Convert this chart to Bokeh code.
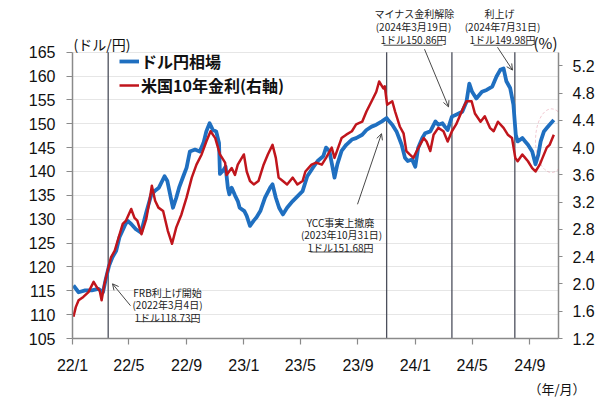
import math
import pandas as pd
from bokeh.plotting import figure
from bokeh.models import (Range1d, LinearAxis, FixedTicker, Label, Arrow, OpenHead, Title,
                          Legend, LegendItem, PolyAnnotation, NumeralTickFormatter)
from bokeh.embed import file_html
from bokeh.resources import INLINE

# ---------------- data ----------------
usd_dates = ["2022-01-03","2022-01-14","2022-01-28","2022-02-11","2022-02-25","2022-03-07","2022-03-13","2022-03-20",
             "2022-03-27","2022-04-04","2022-04-11","2022-04-22","2022-04-28","2022-05-06","2022-05-16","2022-05-27",
             "2022-06-07","2022-06-18","2022-06-25","2022-07-04","2022-07-16","2022-07-22","2022-07-30","2022-08-03",
             "2022-08-10","2022-08-16","2022-08-25","2022-09-01","2022-09-08","2022-09-19","2022-09-29","2022-10-07",
             "2022-10-13","2022-10-20","2022-10-27","2022-11-03","2022-11-09","2022-11-11","2022-11-18","2022-11-23",
             "2022-11-28","2022-12-01","2022-12-06","2022-12-13","2022-12-19","2022-12-23","2023-01-02","2023-01-07",
             "2023-01-14","2023-01-22","2023-01-28","2023-02-05","2023-02-15","2023-02-26","2023-03-03","2023-03-10",
             "2023-03-17","2023-03-25","2023-04-03","2023-04-15","2023-04-25","2023-05-06","2023-05-16","2023-05-28",
             "2023-06-07","2023-06-19","2023-06-25","2023-07-02","2023-07-09","2023-07-13","2023-07-19","2023-07-28",
             "2023-08-07","2023-08-19","2023-08-28","2023-09-10","2023-09-19","2023-09-30","2023-10-10","2023-10-22",
             "2023-11-01","2023-11-04","2023-11-13","2023-11-22","2023-12-03","2023-12-10","2023-12-16","2023-12-25",
             "2024-01-01","2024-01-07","2024-01-16","2024-01-22","2024-02-02","2024-02-13","2024-02-19","2024-02-28",
             "2024-03-04","2024-03-10","2024-03-19","2024-03-28","2024-04-10","2024-04-19","2024-04-25","2024-05-01",
             "2024-05-10","2024-05-22","2024-06-01","2024-06-13","2024-06-22","2024-06-30","2024-07-07","2024-07-13",
             "2024-07-21","2024-07-28","2024-08-02","2024-08-06","2024-08-16","2024-08-22","2024-08-28","2024-09-06",
             "2024-09-13","2024-09-19","2024-09-24","2024-10-01","2024-10-07","2024-10-13","2024-10-22"]
usd_rate = [116.1,114.7,115.1,115.1,115.4,114.7,117.5,120.3,
            122.0,123.4,126.2,128.6,129.7,129.0,127.9,127.2,
            131.4,135.2,135.9,136.6,139.0,138.0,134.2,132.4,
            134.5,136.6,139.0,140.8,144.2,144.6,144.2,146.0,
            148.4,150.1,148.7,148.4,146.0,139.5,140.2,141.0,
            136.5,135.2,136.6,135.0,133.8,132.4,131.7,130.7,
            128.6,129.7,130.4,131.7,134.5,136.6,137.3,134.5,
            132.4,131.0,132.4,133.8,134.8,135.9,139.0,140.8,
            142.2,143.2,145.0,144.3,140.8,138.7,141.5,144.3,
            145.6,146.7,147.0,147.7,148.7,149.4,149.8,150.5,
            151.2,150.8,149.8,148.4,145.6,142.9,142.2,142.5,
            141.0,144.9,147.0,148.0,148.4,150.5,149.8,150.1,
            149.4,148.7,151.5,151.9,152.5,154.6,158.4,156.7,
            155.3,156.7,157.1,157.8,159.9,161.3,161.6,158.9,
            157.5,154.0,147.7,146.3,147.0,146.3,145.6,144.2,
            141.5,143.5,146.3,148.4,149.1,149.8,150.8]

ust_dates = ["2022-01-03","2022-01-08","2022-01-14","2022-01-24","2022-02-04","2022-02-15","2022-02-22","2022-02-28",
             "2022-03-04","2022-03-10","2022-03-17","2022-03-24","2022-04-01","2022-04-07","2022-04-18","2022-04-25",
             "2022-05-06","2022-05-13","2022-05-19","2022-05-28","2022-06-07","2022-06-14","2022-06-19","2022-06-26",
             "2022-07-03","2022-07-13","2022-07-23","2022-08-01","2022-08-10","2022-08-21","2022-09-01","2022-09-12",
             "2022-09-22","2022-10-03","2022-10-13","2022-10-22","2022-11-01","2022-11-11","2022-11-22","2022-11-25",
             "2022-12-06","2022-12-13","2022-12-19","2023-01-01","2023-01-07","2023-01-14","2023-01-22","2023-02-01",
             "2023-02-12","2023-02-21","2023-03-03","2023-03-10","2023-03-16","2023-03-25","2023-04-03","2023-04-15",
             "2023-04-25","2023-05-06","2023-05-12","2023-05-25","2023-06-04","2023-06-16","2023-06-25","2023-07-07",
             "2023-07-13","2023-07-28","2023-08-07","2023-08-19","2023-08-28","2023-09-10","2023-09-19","2023-09-30",
             "2023-10-10","2023-10-16","2023-10-25","2023-10-28","2023-11-02","2023-11-13","2023-11-19","2023-11-29",
             "2023-12-07","2023-12-13","2023-12-20","2023-12-28","2024-01-04","2024-01-11","2024-01-19","2024-01-25",
             "2024-02-02","2024-02-09","2024-02-19","2024-03-01","2024-03-10","2024-03-19","2024-03-28","2024-04-10",
             "2024-04-19","2024-04-30","2024-05-07","2024-05-19","2024-05-28","2024-06-08","2024-06-16","2024-06-25",
             "2024-07-07","2024-07-16","2024-07-25","2024-08-01","2024-08-06","2024-08-16","2024-08-22","2024-08-28",
             "2024-09-06","2024-09-13","2024-09-22","2024-09-28","2024-10-07","2024-10-13","2024-10-22"]
ust_yield = [1.52,1.66,1.76,1.81,1.88,2.03,1.95,1.90,
             1.76,2.00,2.20,2.39,2.49,2.63,2.88,2.93,
             3.10,2.97,2.93,2.73,2.95,3.22,3.44,3.22,
             3.12,3.07,2.78,2.59,2.83,3.02,3.27,3.56,
             3.75,3.90,4.09,4.24,4.14,3.90,3.78,3.60,
             3.70,3.60,3.75,3.90,3.65,3.51,3.46,3.51,
             3.75,3.90,4.04,3.85,3.56,3.51,3.46,3.56,
             3.46,3.51,3.65,3.75,3.78,3.75,3.85,4.00,
             3.85,4.14,4.19,4.24,4.34,4.38,4.53,4.68,
             4.82,4.97,4.87,4.90,4.63,4.68,4.53,4.31,
             4.21,3.95,3.90,3.85,3.95,4.04,4.14,4.09,
             3.95,4.19,4.29,4.24,4.09,4.24,4.34,4.55,
             4.68,4.68,4.50,4.38,4.46,4.29,4.24,4.38,
             4.29,4.19,4.14,3.85,3.80,3.90,3.85,3.80,
             3.70,3.65,3.75,3.85,4.00,4.04,4.19]

left_ticks = [105, 110, 115, 120, 125, 130, 135, 140, 145, 150, 155, 160, 165]
right_ticks = [1.2, 1.6, 2.0, 2.4, 2.8, 3.2, 3.6, 4.0, 4.4, 4.8, 5.2]
x_tick_dates = ["2022-01-01","2022-05-01","2022-09-01","2023-01-01","2023-05-01","2023-09-01",
                "2024-01-01","2024-05-01","2024-09-01"]
x_tick_labels = ["22/1","22/5","22/9","23/1","23/5","23/9","24/1","24/5","24/9"]

event_dates = ["2022-03-18", "2023-11-01", "2024-03-19", "2024-07-31"]

legend_labels = ["ドル円相場", "米国10年金利(右軸)"]

# ---------------- geometry ----------------
def ms(s):
    return pd.Timestamp(s).value // 10**6

X0, X1 = ms("2022-01-01"), ms("2024-11-01")   # x axis span
L0, L1 = 105, 165                              # left axis span
R0, R1 = 1.2, 5.4                              # right axis span

W, H = 600, 397
AL, AR, AT, AB = 72, 558, 52, 340      # axis box in page px
FT = 0                                 # frame extends to the top so the notes above the axes stay visible

def dx(px):
    return X0 + (px - AL) / (AR - AL) * (X1 - X0)
def dy(py):
    return L1 - (py - AT) / (AB - AT) * (L1 - L0)
def dyr(py):
    return R1 - (py - AT) / (AB - AT) * (R1 - R0)

JP = "Noto Sans CJK JP"
NUM = "Liberation Sans"

p = figure(width=W, height=H, x_axis_type="datetime", output_backend="svg",
           toolbar_location=None,
           x_range=Range1d(X0, X1), y_range=Range1d(L0, dy(FT)),
           min_border_left=AL, min_border_right=W - AR, min_border_top=FT, min_border_bottom=H - AB)
p.extra_y_ranges = {"right": Range1d(R0, dyr(FT))}
p.outline_line_color = None
p.background_fill_color = "white"
p.border_fill_color = "white"

# grid
p.xgrid.visible = False
p.ygrid.ticker = FixedTicker(ticks=left_ticks)
p.ygrid.grid_line_color = "#e6e6e6"
p.ygrid.grid_line_width = 1

# event lines
ev = [pd.Timestamp(d) for d in event_dates]
p.segment(x0=ev, y0=[L0] * len(ev), x1=ev, y1=[L1] * len(ev), line_color="#4c4f5c", line_width=1.3)

# series
blue = p.line([pd.Timestamp(d) for d in usd_dates], usd_rate, line_color="#1f6fc0",
              line_width=3.8, line_join="round")
red = p.line([pd.Timestamp(d) for d in ust_dates], ust_yield, line_color="#c0151c",
             line_width=2.5, line_join="round", y_range_name="right")

# axes
xa = p.xaxis[0]
xa.ticker = FixedTicker(ticks=[ms(d) for d in x_tick_dates])
xa.major_label_overrides = {ms(d): lab for d, lab in zip(x_tick_dates, x_tick_labels)}
xa.bounds = (X0, X1)
ya = p.yaxis[0]
ya.ticker = FixedTicker(ticks=left_ticks)
ya.bounds = (L0, L1)
ra = LinearAxis(y_range_name="right", ticker=FixedTicker(ticks=right_ticks))
ra.formatter = NumeralTickFormatter(format="0.0")
ra.bounds = (R0, R1)
p.add_layout(ra, "right")

for ax in (xa, ya, ra):
    ax.axis_line_color = "#8a8a8a"
    ax.axis_line_width = 1.5
    ax.major_tick_line_color = "#8a8a8a"
    ax.major_tick_line_width = 1.2
    ax.major_tick_in = 0
    ax.minor_tick_line_color = None
    ax.major_label_text_font = NUM
    ax.major_label_text_font_size = "16px"
    ax.major_label_text_color = "#111111"
xa.major_tick_out = 6
xa.major_label_standoff = 12
ya.major_tick_out = 6
ya.major_label_standoff = 11
ra.major_tick_out = 4
ra.major_label_standoff = 10

# bottom-right unit title
p.add_layout(Title(text="（年/月）", align="right", offset=-27, standoff=0,
                   text_font=JP, text_font_size="13px", text_font_style="normal",
                   text_color="#111111"), "below")

# legend
legend = Legend(items=[LegendItem(label=legend_labels[0], renderers=[blue]),
                       LegendItem(label=legend_labels[1], renderers=[red])],
                location=(47, 241), background_fill_alpha=0, border_line_alpha=0,
                padding=0, margin=0, spacing=-2, glyph_width=20, glyph_height=18,
                label_height=18, label_standoff=2, label_text_font=JP,
                label_text_font_size="16px", label_text_font_style="bold",
                label_text_color="#111111")
p.add_layout(legend)

def label(px, py, text, size="10px", align="center", color="#222222"):
    p.add_layout(Label(x=px, y=py, x_units="canvas", y_units="canvas", text=text,
                       text_align=align, text_baseline="middle",
                       text_font=JP, text_font_size=size, text_color=color))

def seg(x1, y1, x2, y2, head=False):
    p.add_layout(Arrow(x_start=dx(x1), y_start=dy(y1), x_end=dx(x2), y_end=dy(y2),
                       start=None,
                       end=OpenHead(size=6, line_color="#333333", line_width=0.9) if head else None,
                       line_color="#333333", line_width=0.9))

# axis unit labels
label(73, 43, "(ドル/円)", size="14px", align="left", color="#111111")
label(557, 42, "(%)", size="15px", align="right", color="#111111")

# annotations
label(167, 292, "FRB利上げ開始")
label(167, 304, "(2022年3月4日)")
label(167, 317, "1ドル118.73円")
seg(138, 323, 197, 323)
seg(130, 307, 112, 285, head=True)

label(340, 222, "YCC事実上撤廃")
label(341, 234, "(2023年10月31日)")
label(340, 247, "1ドル151.68円")
seg(310, 253, 370, 253)
seg(357, 205, 381, 134, head=True)

label(414, 13, "マイナス金利解除")
label(413, 26, "(2024年3月19日)")
label(413, 39, "1ドル150.86円")
seg(383, 45, 442, 45)
seg(424, 49, 448, 107, head=True)

label(499, 13, "利上げ")
label(502, 26, "(2024年7月31日)")
label(502, 39, "1ドル149.98円")
seg(473, 45, 532, 45)
seg(497, 47, 512, 70, head=True)

# dashed ellipse highlight
n = 60
exs = [dx(551 + 16 * math.cos(2 * math.pi * i / n)) for i in range(n)]
eys = [dy(141 + 32 * math.sin(2 * math.pi * i / n)) for i in range(n)]
p.add_layout(PolyAnnotation(xs=exs, ys=eys, fill_alpha=0, line_color="#d0506a",
                            line_dash="3 2", line_width=1))

open("out.html", "w").write(file_html(p, INLINE))
